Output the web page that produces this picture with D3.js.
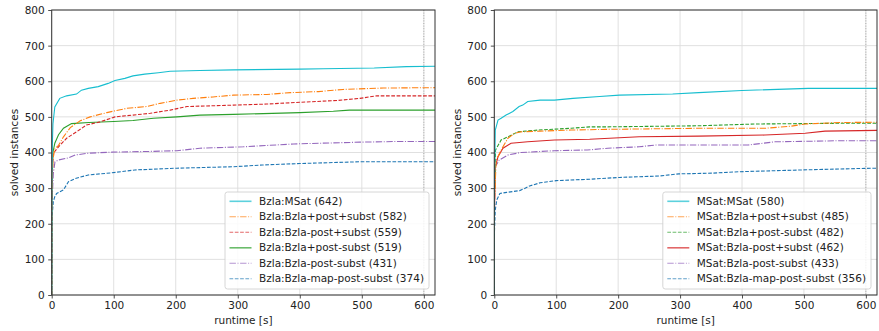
<!DOCTYPE html>
<html>
<head>
<meta charset="utf-8">
<script src="https://cdn.jsdelivr.net/npm/d3@7"></script>
<style>
  body { margin: 0; background: #fff; }
  svg { font-family: "DejaVu Sans", sans-serif; }
</style>
</head>
<body>
<div id="chart"></div>
<script>
// ---- data: [runtime s, solved instances] ----
const xTicks = [0, 100, 200, 300, 400, 500, 600];
const yTicks = [0, 100, 200, 300, 400, 500, 600, 700, 800];
const timeout = 600;

// left panel (Bzla:...)
const bzlaMSat = [[0,0],[0.3,300],[1,420],[2,480],[5,528],[13,552],[24,559],[40,564],[48,575],[59,580],[75,585],[91,594],[102,602],[118,608],[131,615],[150,620],[172,624],[191,628],[239,630],[293,632],[400,634],[438,635],[520,637],[572,641],[618,642]];
const bzlaPlusPostPlusSubst = [[0,0],[0.3,280],[2,380],[5,410],[11,420],[19,444],[30,470],[46,489],[62,500],[89,512],[121,524],[153,529],[175,538],[202,547],[228,552],[260,556],[293,561],[347,563],[385,568],[430,571],[470,577],[535,581],[618,582]];
const bzlaMinusPostPlusSubst = [[0,0],[0.3,260],[1.5,370],[2.7,398],[11,416],[24,440],[40,458],[56,477],[78,486],[102,500],[131,505],[159,510],[191,519],[218,529],[293,533],[347,536],[400,541],[460,546],[497,552],[524,559],[618,559]];
const bzlaPlusPostMinusSubst = [[0,0],[0.3,290],[2,400],[5,426],[11,450],[19,468],[32,481],[60,484],[100,487],[131,490],[164,496],[202,500],[239,505],[293,507],[400,512],[454,516],[480,519],[618,519]];
const bzlaMinusPostMinusSubst = [[0,0],[0.3,250],[2.6,341],[5.3,374],[11,379],[27,385],[38,393],[59,398],[97,401],[158,403],[202,405],[239,412],[309,416],[390,424],[497,429],[560,431],[618,431]];
const bzlaMapPostSubst = [[0,0],[0.3,180],[1,229],[2.6,262],[5,276],[8,285],[19,295],[27,318],[38,327],[59,337],[97,343],[134,351],[202,356],[293,360],[340,365],[400,369],[497,374],[618,374]];

// right panel (MSat:...)
const msatMSat = [[0,0],[0.3,320],[1.6,463],[6,491],[11,496],[19,505],[30,515],[40,529],[46,533],[54,543],[74,547],[97,547],[127,552],[170,557],[202,561],[288,564],[330,568],[400,574],[507,580],[618,580]];
const msatPlusPostPlusSubst = [[0,0],[0.3,260],[3,379],[14,416],[22,440],[33,454],[43,458],[74,460],[124,463],[183,465],[330,468],[437,468],[480,474],[502,480],[556,484],[618,485]];
const msatPlusPostMinusSubst = [[0,0],[0.3,280],[2,407],[11,435],[22,444],[38,458],[70,463],[124,468],[154,472],[183,472],[330,475],[422,480],[556,482],[618,482]];
const msatMinusPostPlusSubst = [[0,0],[0.3,240],[1.6,360],[6,388],[14,412],[27,426],[54,430],[97,435],[154,437],[234,444],[330,446],[437,449],[502,454],[534,460],[618,462]];
const msatMinusPostMinusSubst = [[0,0],[0.3,240],[1.5,360],[8,379],[22,393],[43,400],[97,405],[150,407],[183,412],[234,416],[260,421],[410,421],[453,430],[556,433],[618,433]];
const msatMapPostSubst = [[0,0],[0.3,180],[1.6,239],[4,267],[9,285],[20,288],[41,293],[49,299],[57,306],[74,315],[100,321],[154,325],[202,330],[266,334],[298,340],[352,342],[395,346],[496,351],[587,355],[618,356]];

const leftSeries = [
  { name: "Bzla:MSat (642)", data: bzlaMSat, color: "#17becf", dash: null },
  { name: "Bzla:Bzla+post+subst (582)", data: bzlaPlusPostPlusSubst, color: "#ff7f0e", dash: "6.4,1.6,1,1.6" },
  { name: "Bzla:Bzla-post+subst (559)", data: bzlaMinusPostPlusSubst, color: "#d62728", dash: "3.7,1.6" },
  { name: "Bzla:Bzla+post-subst (519)", data: bzlaPlusPostMinusSubst, color: "#2ca02c", dash: null },
  { name: "Bzla:Bzla-post-subst (431)", data: bzlaMinusPostMinusSubst, color: "#9467bd", dash: "6.4,1.6,1,1.6" },
  { name: "Bzla:Bzla-map-post-subst (374)", data: bzlaMapPostSubst, color: "#1f77b4", dash: "3.7,1.6" }
];
const rightSeries = [
  { name: "MSat:MSat (580)", data: msatMSat, color: "#17becf", dash: null },
  { name: "MSat:Bzla+post+subst (485)", data: msatPlusPostPlusSubst, color: "#ff7f0e", dash: "6.4,1.6,1,1.6" },
  { name: "MSat:Bzla+post-subst (482)", data: msatPlusPostMinusSubst, color: "#2ca02c", dash: "3.7,1.6" },
  { name: "MSat:Bzla-post+subst (462)", data: msatMinusPostPlusSubst, color: "#d62728", dash: null },
  { name: "MSat:Bzla-post-subst (433)", data: msatMinusPostMinusSubst, color: "#9467bd", dash: "6.4,1.6,1,1.6" },
  { name: "MSat:Bzla-map-post-subst (356)", data: msatMapPostSubst, color: "#1f77b4", dash: "3.7,1.6" }
];

const W = 879, H = 331;
const FS = 10.5;
const svg = d3.select("#chart").append("svg").attr("width", W).attr("height", H);

function drawPanel(left, right, series) {
  const top = 10, bottom = 295;
  const x = d3.scaleLinear().domain([0, 618]).range([left, right]);
  const y = d3.scaleLinear().domain([0, 800]).range([bottom, top]);
  const g = svg.append("g");

  // grid
  g.append("g").selectAll("line").data(xTicks).join("line")
    .attr("x1", d => x(d)).attr("x2", d => x(d)).attr("y1", top).attr("y2", bottom)
    .attr("stroke", "#dcdcdc").attr("stroke-width", 0.9);
  g.append("g").selectAll("line").data(yTicks).join("line")
    .attr("x1", left).attr("x2", right).attr("y1", d => y(d)).attr("y2", d => y(d))
    .attr("stroke", "#dcdcdc").attr("stroke-width", 0.9);

  // timeout marker
  g.append("line")
    .attr("x1", x(timeout)).attr("x2", x(timeout)).attr("y1", top).attr("y2", bottom)
    .attr("stroke", "#999").attr("stroke-width", 0.8).attr("stroke-dasharray", "1,1.6");

  // lines
  const line = d3.line().x(d => x(d[0])).y(d => y(d[1]));
  g.append("defs").append("clipPath").attr("id", "clip" + left)
    .append("rect").attr("x", left).attr("y", top).attr("width", right - left).attr("height", bottom - top);
  const lines = g.append("g").attr("clip-path", "url(#clip" + left + ")");
  series.slice().reverse().forEach(s => {
    lines.append("path").datum(s.data)
      .attr("fill", "none")
      .attr("stroke", s.color)
      .attr("stroke-width", 1.1)
      .attr("stroke-dasharray", s.dash)
      .attr("d", line);
  });

  // axes
  const ax = g.append("g").attr("transform", "translate(0," + bottom + ")")
    .call(d3.axisBottom(x).tickValues(xTicks).tickSize(3.5).tickPadding(3.5).tickSizeOuter(0));
  const ay = g.append("g").attr("transform", "translate(" + left + ",0)")
    .call(d3.axisLeft(y).tickValues(yTicks).tickSize(3.5).tickPadding(3.5).tickSizeOuter(0));
  [ax, ay].forEach(a => {
    a.select(".domain").remove();
    a.selectAll("text").attr("font-size", FS).attr("fill", "#222").attr("font-family", "DejaVu Sans");
    a.selectAll(".tick line").attr("stroke", "#222").attr("stroke-width", 0.8);
  });

  // spines
  g.append("rect").attr("x", left).attr("y", top).attr("width", right - left).attr("height", bottom - top)
    .attr("fill", "none").attr("stroke", "#333").attr("stroke-width", 1);

  // axis labels
  g.append("text").attr("x", (left + right) / 2).attr("y", 324)
    .attr("text-anchor", "middle").attr("font-size", FS).attr("fill", "#222").text("runtime [s]");
  g.append("text").attr("transform", "translate(" + (left - 33.5) + "," + ((top + bottom) / 2) + ") rotate(-90)")
    .attr("text-anchor", "middle").attr("font-size", FS).attr("fill", "#222").text("solved instances");

  // legend
  const rowH = 15.5, handle = 22;
  const lg = g.append("g");
  const box = lg.append("rect").attr("rx", 2.5).attr("fill", "#fff").attr("fill-opacity", 0.85)
    .attr("stroke", "#ccc").attr("stroke-width", 0.8);
  let maxW = 0;
  series.forEach((s, i) => {
    const t = lg.append("text").attr("x", 34).attr("y", 9.3 + i * rowH).attr("dy", "0.35em")
      .attr("font-size", FS).attr("fill", "#222").text(s.name);
    maxW = Math.max(maxW, t.node().getComputedTextLength());
    lg.append("line").attr("x1", 4.5).attr("x2", 4.5 + handle)
      .attr("y1", 9.3 + i * rowH).attr("y2", 9.3 + i * rowH)
      .attr("stroke", s.color).attr("stroke-width", s.dash ? 1.1 : 1.6)
      .attr("stroke-opacity", 0.7).attr("stroke-dasharray", s.dash);
  });
  const bw = 34 + maxW + 5, bh = 97;
  box.attr("width", bw).attr("height", bh);
  lg.attr("transform", "translate(" + (right - 6 - bw) + "," + (bottom - 6 - bh) + ")");
}

drawPanel(51.7, 435, leftSeries);
drawPanel(494.3, 877, rightSeries);
</script>
</body>
</html>
